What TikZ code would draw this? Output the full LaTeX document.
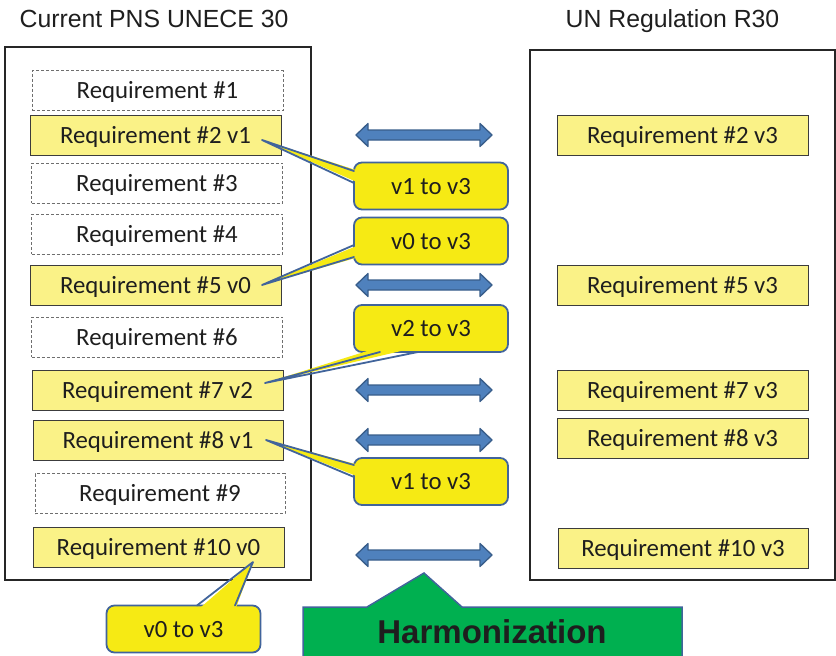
\documentclass[tikz,border=0pt]{standalone}
\usepackage{fontspec}
\setmainfont{Carlito}
\newfontfamily\arialfont{Liberation Sans}
\usetikzlibrary{calc}
\definecolor{reqfill}{RGB}{250,242,135}
\definecolor{reqborder}{RGB}{60,60,60}
\definecolor{dashgray}{RGB}{110,110,110}
\definecolor{txt}{RGB}{30,30,30}
\definecolor{callfill}{RGB}{246,234,20}
\definecolor{callborder}{RGB}{65,100,155}
\definecolor{arrfill}{RGB}{79,129,189}
\definecolor{arrborder}{RGB}{56,93,138}
\definecolor{harmgreen}{RGB}{0,176,80}
\begin{document}
\begin{tikzpicture}[x=1pt,y=-1pt,
  boxtext/.style={inner sep=0pt, text height=16pt, text depth=0pt, font=\fontsize{24.8}{29}\selectfont, text=txt},
  req/.style={boxtext, rectangle, draw=reqborder, line width=0.9pt, fill=reqfill, minimum width=251pt, minimum height=40pt},
  reqd/.style={boxtext, rectangle, draw=dashgray, dash pattern=on 3pt off 2pt, line width=0.9pt, minimum width=251pt, minimum height=40pt},
  bigbox/.style={rectangle, draw=black!85, line width=2.5pt, inner sep=0pt},
  callout/.style={boxtext, rectangle, rounded corners=8pt, fill=callfill, draw=callborder, line width=1.8pt, minimum width=154pt, minimum height=47pt},
  pointerfill/.style={fill=callfill},
  pointerline/.style={draw=callborder, line width=1.8pt, line join=round, line cap=round},
  dblarr/.style={fill=arrfill, draw=arrborder, line width=1.3pt, line join=round},
  title/.style={font=\arialfont\fontsize{24.8}{29}\selectfont, text=txt, inner sep=0pt, anchor=base}
]
\useasboundingbox (0,0) rectangle (836,656);

% titles
\node[title] (tl) at (154,27) {Current PNS UNECE 30};
\node[title] (tr) at (672.5,27) {UN Regulation R30};

% big boxes
\node[bigbox, minimum width=306pt, minimum height=533pt] (L) at (158,313.5) {};
\node[bigbox, minimum width=305pt, minimum height=530pt] (R) at (682.5,315) {};

% left requirements
\node[reqd] (r1) at (157.5,90.5) {Requirement \#1};
\node[req]  (r2) at (155.5,135) {Requirement \#2 v1};
\node[reqd] (r3) at (157,183) {Requirement \#3};
\node[reqd] (r4) at (157,234) {Requirement \#4};
\node[req]  (r5) at (155.5,285) {Requirement \#5 v0};
\node[reqd] (r6) at (157,337) {Requirement \#6};
\node[req]  (r7) at (157.5,390) {Requirement \#7 v2};
\node[req, minimum width=250pt]  (r8) at (158,440) {Requirement \#8 v1};
\node[reqd, minimum width=250pt] (r9) at (160,493.5) {Requirement \#9};
\node[req]  (r10) at (158.5,547) {Requirement \#10 v0};

% right requirements
\node[req] (s2) at (682.5,135) {Requirement \#2 v3};
\node[req] (s5) at (682.5,285) {Requirement \#5 v3};
\node[req] (s7) at (682.5,390) {Requirement \#7 v3};
\node[req] (s8) at (682.5,438) {Requirement \#8 v3};
\node[req, minimum width=250pt] (s10) at (683,548) {Requirement \#10 v3};

% double arrows
\foreach \yy in {135,285,390,440,555}{
  \draw[dblarr] (356,\yy) -- (368,\yy-11.5) -- (368,\yy-5) -- (480,\yy-5) -- (480,\yy-11.5)
    -- (492,\yy) -- (480,\yy+11.5) -- (480,\yy+5) -- (368,\yy+5) -- (368,\yy+11.5) -- cycle;
}

% callouts
\node[callout] (c1) at (431,186) {v1 to v3};
\node[callout] (c2) at (431,241) {v0 to v3};
\node[callout] (c3) at (431,328.5) {v2 to v3};
\node[callout] (c4) at (431,481.5) {v1 to v3};
\node[callout] (c5) at (183.5,629) {v0 to v3};

% pointer tips and bases
\coordinate (t1) at (262,140);
\coordinate (c1a) at (354,171);
\coordinate (c1b) at (354,183);
\coordinate (t2) at (262,285);
\coordinate (c2a) at (354,245);
\coordinate (c2b) at (354,257);
\coordinate (t3) at (265,383);
\coordinate (c3a) at (380,352);
\coordinate (c3b) at (418,352);
\coordinate (t4) at (266,440);
\coordinate (c4a) at (354,465);
\coordinate (c4b) at (354,477);
\coordinate (t5) at (253,562);
\coordinate (c5a) at (197,605.5);
\coordinate (c5b) at (235,605.5);

\fill[pointerfill] (t1) -- ($(c1a)+(5,0)$) -- ($(c1b)+(5,0)$) -- cycle;
\draw[pointerline] (c1a) -- (t1) -- (c1b);
\fill[pointerfill] (t2) -- ($(c2a)+(5,0)$) -- ($(c2b)+(5,0)$) -- cycle;
\draw[pointerline] (c2a) -- (t2) -- (c2b);
\fill[pointerfill] (t3) -- ($(c3a)+(0,-5)$) -- ($(c3b)+(0,-5)$) -- cycle;
\draw[pointerline] (c3a) -- (t3) -- (c3b);
\fill[pointerfill] (t4) -- ($(c4a)+(5,0)$) -- ($(c4b)+(5,0)$) -- cycle;
\draw[pointerline] (c4a) -- (t4) -- (c4b);
\fill[pointerfill] (t5) -- ($(c5a)+(0,5)$) -- ($(c5b)+(0,5)$) -- cycle;
\draw[pointerline] (c5a) -- (t5) -- (c5b);

% harmonization
\draw[fill=harmgreen, draw=callborder, line width=1.5pt, line join=miter]
  (303,663) -- (303,607) -- (367,607) -- (424,573) -- (462,607) -- (682,607) -- (682,663);
\node[font=\arialfont\bfseries\fontsize{33}{38}\selectfont, text=txt, inner sep=0pt, text height=23.5pt, text depth=0pt] (H) at (492,632) {Harmonization};
\end{tikzpicture}
\end{document}
